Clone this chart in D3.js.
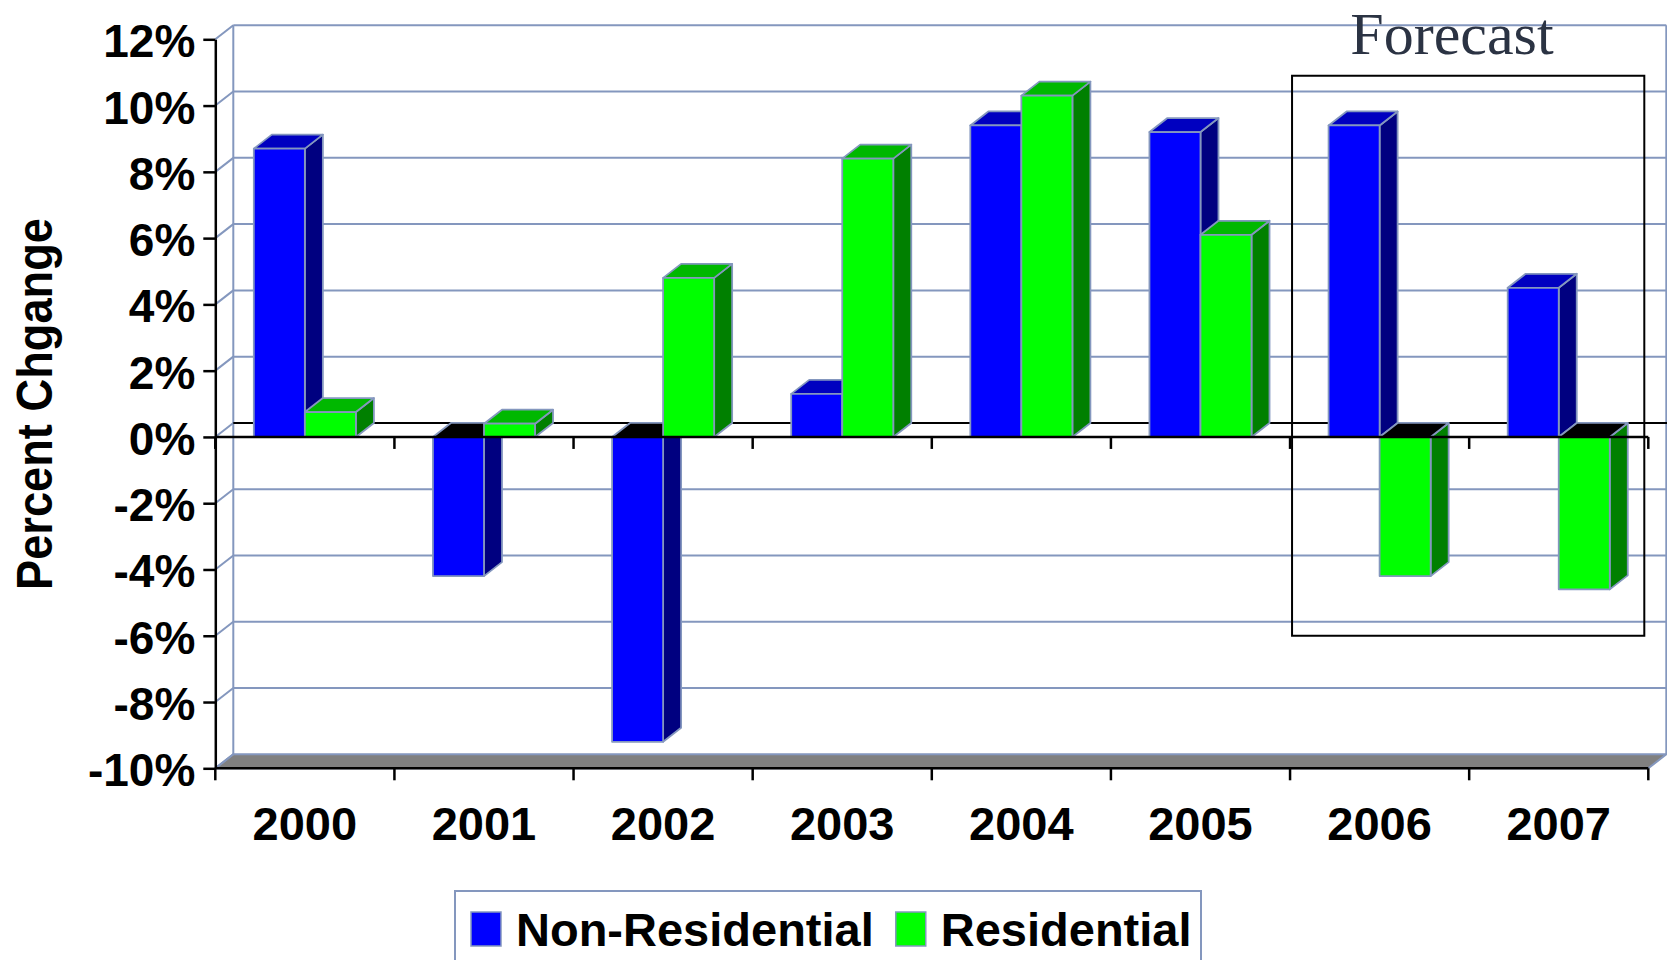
<!DOCTYPE html>
<html>
<head>
<meta charset="utf-8">
<script src="https://cdn.jsdelivr.net/npm/d3@7"></script>
<style>
  html, body { margin: 0; padding: 0; background: #fff; }
  svg { display: block; }
</style>
</head>
<body>
<svg id="chart" width="1667" height="960"></svg>
<script>
// Annual construction spending, percent change by sector
const years = ["2000", "2001", "2002", "2003", "2004", "2005", "2006", "2007"];
const seriesNames = ["Non-Residential", "Residential"];
const nonResidential = [8.7, -4.2, -9.2, 1.3, 9.4, 9.2, 9.4, 4.5];
const residential = [0.75, 0.4, 4.8, 8.4, 10.3, 6.1, -4.2, -4.6];
const yTicks = [-10, -8, -6, -4, -2, 0, 2, 4, 6, 8, 10, 12];
const forecastYears = ["2006", "2007"];

const W = 1667, H = 960;
const DX = 18, DY = -14;            // depth offset of the 3-D walls and bars
const gridColor = "#8497be";
const sansFont = "'Liberation Sans', Arial, sans-serif";

const faces = {
  "Non-Residential": { front: "#0000ff", side: "#000080", top: "#0000c0" },
  "Residential":     { front: "#00ff00", side: "#008000", top: "#00b800" }
};

const svg = d3.select("#chart");

const y = d3.scaleLinear().domain([-10, 12]).range([768.3, 39.3]);
const x0 = d3.scaleBand().domain(years).range([215.3, 1648.3]);
const x1 = d3.scaleBand().domain(seriesNames).range([0, x0.bandwidth()])
  .paddingInner(0).paddingOuter(0.755);

const [xL, xR] = x0.range();
const yZero = y(0), yBottom = y(-10), yTop = y(12);

// ---- walls and floor ----
const walls = svg.append("g");

// floor
walls.append("polygon")
  .attr("points", [[xL, yBottom], [xL + DX, yBottom + DY], [xR + DX, yBottom + DY], [xR, yBottom]].join(" "))
  .attr("fill", "#808080").attr("stroke", gridColor).attr("stroke-width", 2);

// back wall gridlines
walls.selectAll(".grid").data(yTicks.filter(t => t !== 0 && t !== -10)).enter()
  .append("line")
  .attr("x1", xL + DX).attr("x2", xR + DX)
  .attr("y1", d => y(d) + DY).attr("y2", d => y(d) + DY)
  .attr("stroke", gridColor).attr("stroke-width", 2);

// side wall diagonals
walls.selectAll(".diag").data(yTicks).enter()
  .append("line")
  .attr("x1", xL).attr("x2", xL + DX)
  .attr("y1", d => y(d)).attr("y2", d => y(d) + DY)
  .attr("stroke", gridColor).attr("stroke-width", 2);

// back wall vertical edges
[xL + DX, xR + DX].forEach(xx => {
  walls.append("line")
    .attr("x1", xx).attr("x2", xx)
    .attr("y1", yTop + DY).attr("y2", yBottom + DY)
    .attr("stroke", gridColor).attr("stroke-width", 2);
});

// back zero line
walls.append("line")
  .attr("x1", xL + DX).attr("x2", W)
  .attr("y1", yZero + DY).attr("y2", yZero + DY)
  .attr("stroke", "#000").attr("stroke-width", 2);

// ---- bars ----
const barData = [];
years.forEach((yr, i) => {
  barData.push({ year: yr, series: "Non-Residential", value: nonResidential[i] });
  barData.push({ year: yr, series: "Residential", value: residential[i] });
});

const bars = svg.append("g");
barData.forEach(d => {
  const bx = x0(d.year) + x1(d.series);
  const w = x1.bandwidth();
  const yv = y(d.value);
  const t = Math.min(yZero, yv), b = Math.max(yZero, yv);
  const f = faces[d.series];
  const g = bars.append("g")
    .attr("stroke", gridColor).attr("stroke-width", 1.8).attr("stroke-linejoin", "round");
  g.append("polygon")
    .attr("points", [[bx + w, t], [bx + w + DX, t + DY], [bx + w + DX, b + DY], [bx + w, b]].join(" "))
    .attr("fill", f.side);
  g.append("polygon")
    .attr("points", [[bx, t], [bx + w, t], [bx + w + DX, t + DY], [bx + DX, t + DY]].join(" "))
    .attr("fill", d.value < 0 ? "#000" : f.top);
  g.append("rect")
    .attr("x", bx).attr("y", t).attr("width", w).attr("height", b - t)
    .attr("fill", f.front);
});

// ---- axes ----
const yAxis = svg.append("g")
  .attr("transform", `translate(${xL},0)`)
  .call(d3.axisLeft(y).tickValues(yTicks).tickFormat(d => d + "%")
    .tickSize(12).tickSizeOuter(0).tickPadding(8));
yAxis.select(".domain").attr("stroke", "#000").attr("stroke-width", 2.5);
yAxis.selectAll(".tick line").attr("stroke", "#000").attr("stroke-width", 2.5);
yAxis.selectAll(".tick text")
  .attr("font-family", sansFont).attr("font-weight", "bold").attr("font-size", 46)
  .attr("fill", "#000").attr("dy", "0.38em");

const boundaries = years.map(d => x0(d)).concat([xR]);

[yZero, yBottom].forEach(yy => {
  const g = svg.append("g");
  g.append("line")
    .attr("x1", xL).attr("x2", xR).attr("y1", yy).attr("y2", yy)
    .attr("stroke", "#000").attr("stroke-width", 2.5);
  g.selectAll("line.tk").data(boundaries).enter().append("line")
    .attr("x1", d => d).attr("x2", d => d)
    .attr("y1", yy).attr("y2", yy + 12)
    .attr("stroke", "#000").attr("stroke-width", 2.5);
});

const xAxis = svg.append("g")
  .attr("transform", `translate(0,${yBottom})`)
  .call(d3.axisBottom(x0).tickSize(0).tickPadding(38));
xAxis.select(".domain").remove();
xAxis.selectAll(".tick text")
  .attr("font-family", sansFont).attr("font-weight", "bold").attr("font-size", 47)
  .attr("fill", "#000");

// axis title
svg.append("text")
  .attr("transform", "translate(52.3,404) rotate(-90)")
  .attr("text-anchor", "middle")
  .attr("font-family", sansFont).attr("font-weight", "bold").attr("font-size", 50)
  .attr("textLength", 372).attr("lengthAdjust", "spacingAndGlyphs")
  .text("Percent Chgange");

// ---- forecast annotation ----
const fx0 = x0(forecastYears[0]) + 2;
const fx1 = x0(forecastYears[forecastYears.length - 1]) + x0.bandwidth() - 4;
svg.append("rect")
  .attr("x", fx0).attr("y", y(10.9))
  .attr("width", fx1 - fx0).attr("height", y(-6) - y(10.9))
  .attr("fill", "none").attr("stroke", "#000").attr("stroke-width", 2);
svg.append("text")
  .attr("x", 1452).attr("y", 54)
  .attr("text-anchor", "middle")
  .attr("font-family", "'Liberation Serif', 'Times New Roman', serif")
  .attr("font-size", 60).attr("fill", "#2b3343")
  .text("Forecast");

// ---- legend ----
const legend = svg.append("g");
legend.append("rect")
  .attr("x", 455).attr("y", 891).attr("width", 746).attr("height", 100)
  .attr("fill", "#fff").attr("stroke", gridColor).attr("stroke-width", 2);
let lx = 471;
seriesNames.forEach(name => {
  legend.append("rect")
    .attr("x", lx).attr("y", 912).attr("width", 30).attr("height", 34)
    .attr("fill", faces[name].front).attr("stroke", gridColor).attr("stroke-width", 1.5);
  const t = legend.append("text")
    .attr("x", lx + 45).attr("y", 946)
    .attr("font-family", sansFont).attr("font-weight", "bold").attr("font-size", 47)
    .text(name);
  lx = lx + 45 + t.node().getComputedTextLength() + 22;
});
</script>
</body>
</html>
